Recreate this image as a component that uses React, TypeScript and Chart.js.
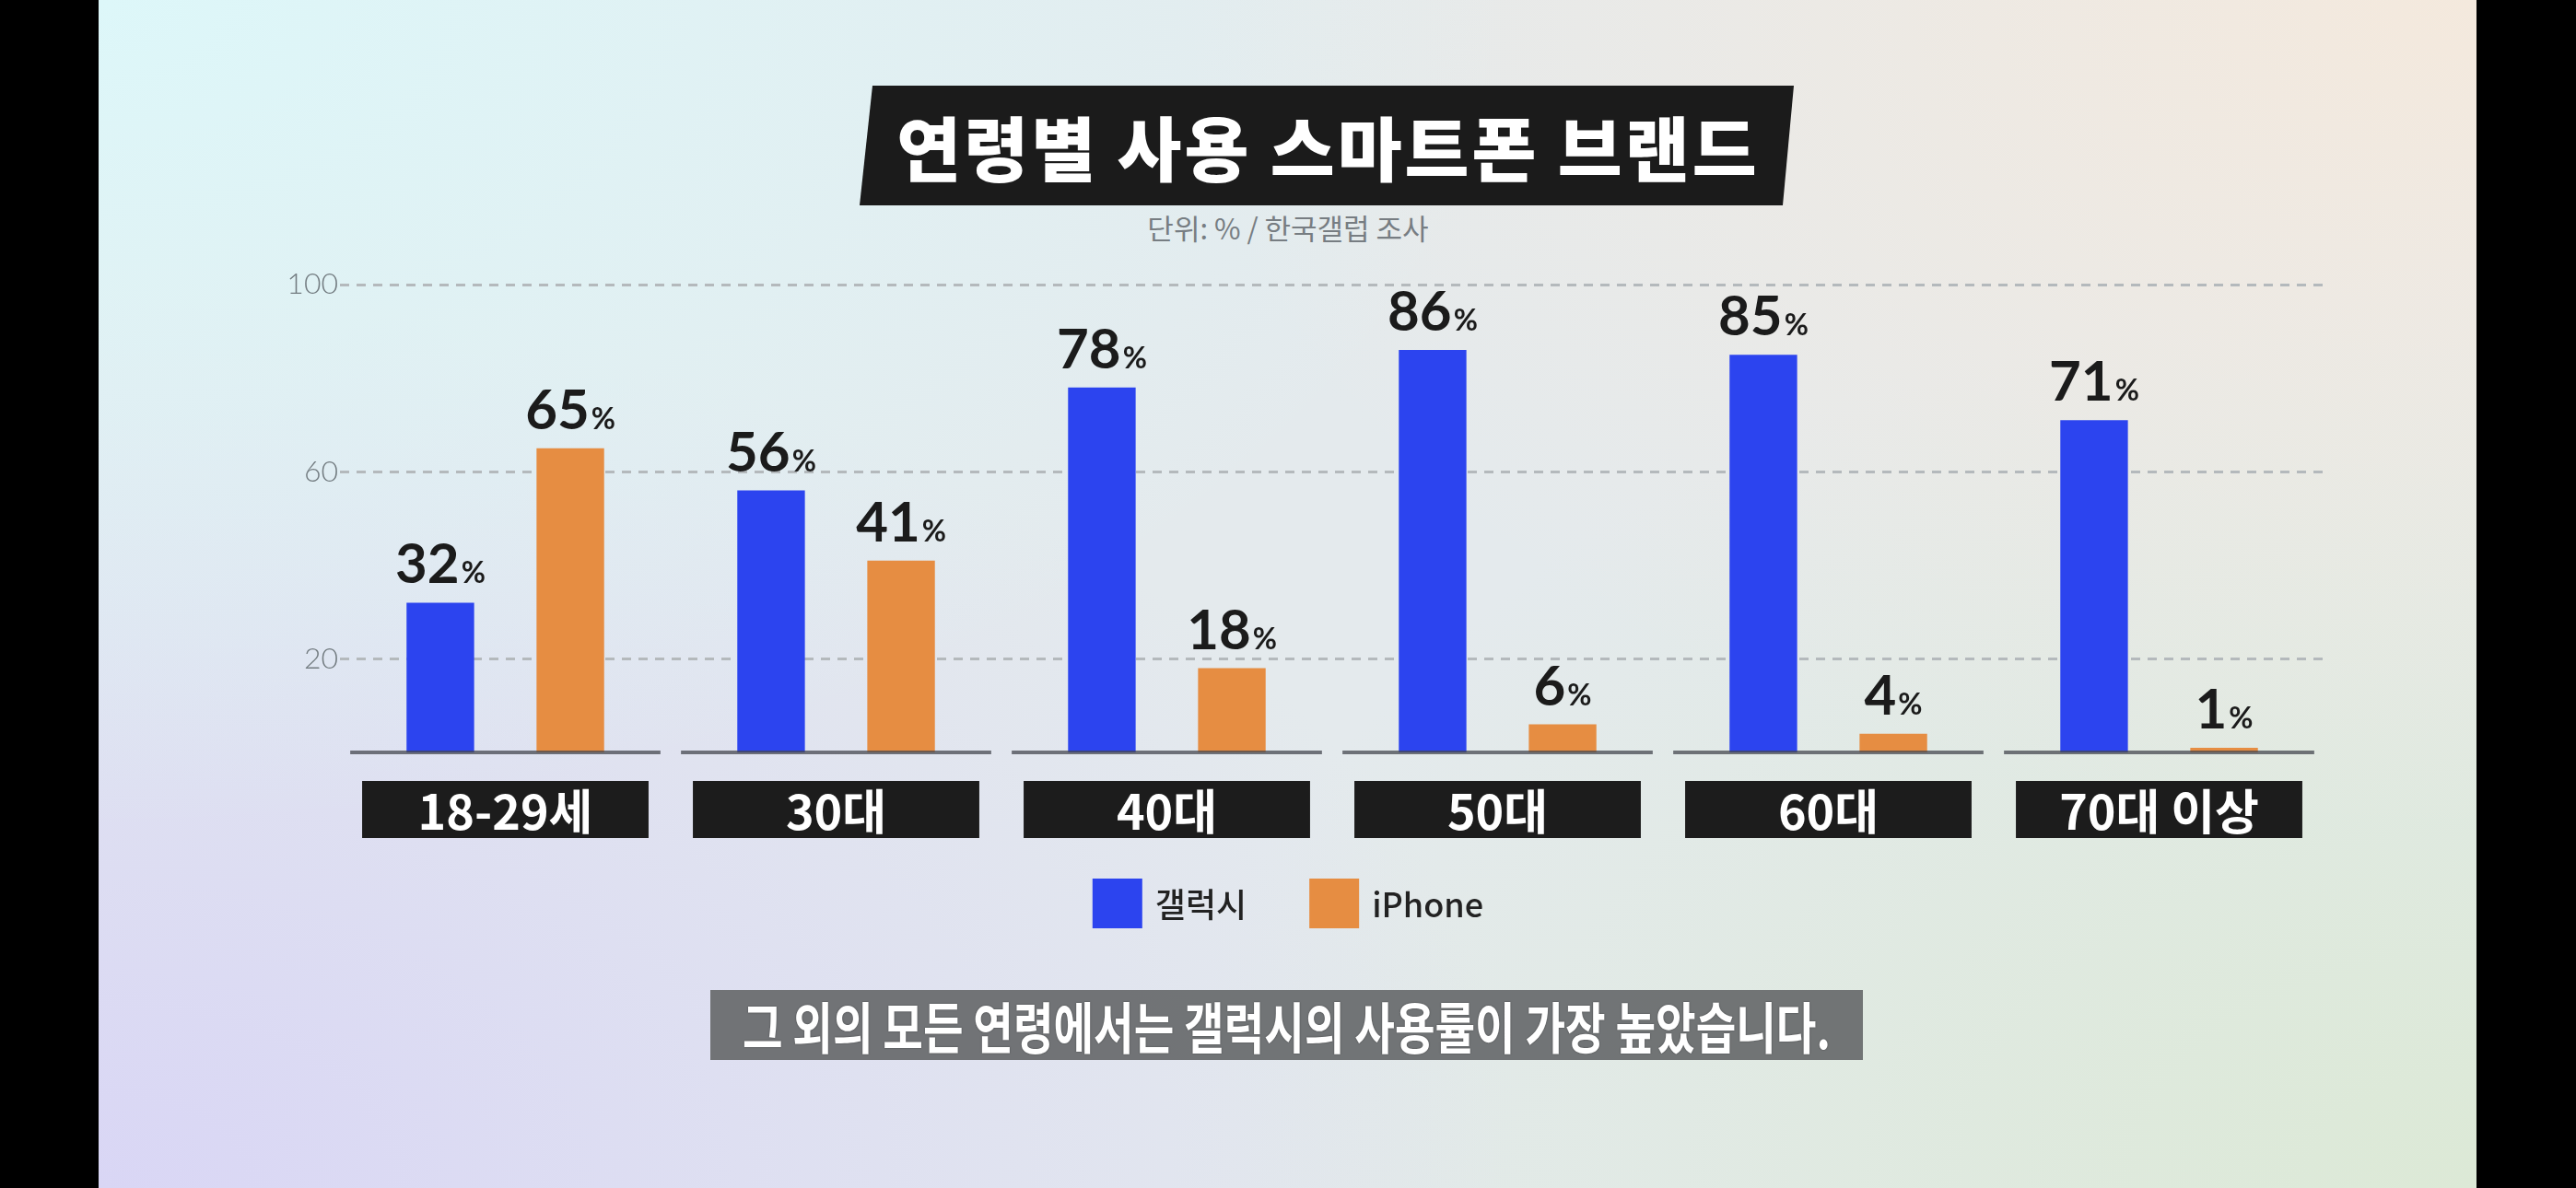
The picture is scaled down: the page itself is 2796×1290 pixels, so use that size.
import React, { useEffect, useRef } from "react";
import { Chart, registerables } from "chart.js";

Chart.register(...registerables);

const categories = ["18-29세", "30대", "40대", "50대", "60대", "70대 이상"];
const seriesNames = ["갤럭시", "iPhone"];
const galaxyValues = [32, 56, 78, 86, 85, 71];
const iphoneValues = [65, 41, 18, 6, 4, 1];
const yTicks = [20, 60, 100];
const seriesColors = ["#2c44ef", "#e68d42"];

const W = 2796;
const H = 1290;
const KR = '"Noto Sans CJK KR", "Noto Sans", sans-serif';
const NUM = 'Lato, "Noto Sans", sans-serif';

const overlayPlugin = {
  id: "overlay",
  afterDatasetsDraw(chart: any) {
    const { ctx, chartArea, scales } = chart;
    const x = scales.x;
    const y = scales.y;
    const n = chart.data.labels.length;
    const catW = (chartArea.right - chartArea.left) / n;
    const y0 = y.getPixelForValue(0);
    ctx.save();

    // baseline segments per category
    ctx.strokeStyle = "rgba(70,72,80,0.75)";
    ctx.lineWidth = 4;
    for (let i = 0; i < n; i++) {
      const cx = x.getPixelForValue(i);
      ctx.beginPath();
      ctx.moveTo(cx - catW * 0.469, y0);
      ctx.lineTo(cx + catW * 0.469, y0);
      ctx.stroke();
    }

    // value labels
    ctx.textAlign = "left";
    ctx.textBaseline = "alphabetic";
    ctx.fillStyle = "#1b1b1b";
    chart.data.datasets.forEach((ds: any, di: number) => {
      const meta = chart.getDatasetMeta(di);
      meta.data.forEach((bar: any, i: number) => {
        const num = String(ds.data[i]);
        ctx.font = `700 60px ${NUM}`;
        const w1 = ctx.measureText(num).width;
        ctx.font = `700 32px ${NUM}`;
        const w2 = ctx.measureText("%").width;
        const gap = 2;
        const start = bar.x - (w1 + gap + w2) / 2;
        const base = bar.y - 21;
        ctx.font = `700 60px ${NUM}`;
        ctx.fillText(num, start, base);
        ctx.font = `700 32px ${NUM}`;
        ctx.fillText("%", start + w1 + gap, base);
      });
    });

    // category label boxes
    const boxW = catW * 0.866;
    const boxTop = y0 + 31;
    const boxH = 62;
    for (let i = 0; i < n; i++) {
      const cx = x.getPixelForValue(i);
      ctx.fillStyle = "#1c1c1c";
      ctx.fillRect(cx - boxW / 2, boxTop, boxW, boxH);
      ctx.fillStyle = "#ffffff";
      ctx.font = `700 52px ${KR}`;
      ctx.textAlign = "center";
      ctx.textBaseline = "middle";
      ctx.fillText(chart.data.labels[i], cx, boxTop + boxH / 2 + 2);
    }

    // legend
    const sq = 54;
    const gapText = 14;
    const itemGap = 68;
    ctx.font = `500 36px ${KR}`;
    const widths = chart.data.datasets.map(
      (ds: any) => sq + gapText + ctx.measureText(ds.label).width
    );
    const total =
      widths.reduce((a: number, b: number) => a + b, 0) +
      itemGap * (widths.length - 1);
    let lx = chart.width / 2 - total / 2;
    const ly = 954;
    chart.data.datasets.forEach((ds: any, di: number) => {
      ctx.fillStyle = ds.backgroundColor;
      ctx.fillRect(lx, ly, sq, sq);
      ctx.fillStyle = "#222222";
      ctx.textAlign = "left";
      ctx.textBaseline = "middle";
      ctx.fillText(ds.label, lx + sq + gapText, ly + sq / 2 + 1);
      lx += widths[di] + itemGap;
    });

    ctx.restore();
  },
};

export default function App() {
  const canvasRef = useRef<HTMLCanvasElement | null>(null);

  useEffect(() => {
    document.body.style.margin = "0";
    const canvas = canvasRef.current;
    if (!canvas) return;
    const chart = new Chart(canvas, {
      type: "bar",
      data: {
        labels: categories,
        datasets: [
          {
            label: seriesNames[0],
            data: galaxyValues,
            backgroundColor: seriesColors[0],
            borderWidth: 0,
            categoryPercentage: 0.786,
            barPercentage: 0.52,
          },
          {
            label: seriesNames[1],
            data: iphoneValues,
            backgroundColor: seriesColors[1],
            borderWidth: 0,
            categoryPercentage: 0.786,
            barPercentage: 0.52,
          },
        ],
      },
      options: {
        responsive: false,
        animation: false,
        devicePixelRatio: 1,
        layout: { padding: { left: 312, right: 273, top: 309, bottom: 473 } },
        plugins: {
          legend: { display: false },
          tooltip: { enabled: false },
        },
        scales: {
          x: { display: false },
          y: {
            min: 0,
            max: 100,
            afterBuildTicks: (s: any) => {
              s.ticks = yTicks.map((v) => ({ value: v }));
            },
            afterFit: (s: any) => {
              s.width = 57;
            },
            grid: { color: "#b4b9bc", lineWidth: 3, drawTicks: false },
            border: { display: false, dash: [10, 8] },
            ticks: {
              padding: 2,
              color: "#737c81",
              font: { family: "Lato", size: 32, weight: "300" },
            },
          },
        },
      },
      plugins: [overlayPlugin],
    } as any);
    return () => chart.destroy();
  }, []);

  return (
    <div
      style={{
        position: "absolute",
        left: 0,
        top: 0,
        width: W,
        height: H,
        background: "#000",
        overflow: "hidden",
      }}
    >
      <div
        style={{
          position: "absolute",
          left: 107,
          top: 0,
          width: 2688 - 107,
          height: H,
          background:
            "radial-gradient(ellipse 60% 70% at 0% 0%, #ddf7f9 0%, rgba(221,247,249,0) 100%)," +
            "radial-gradient(ellipse 55% 70% at 100% 0%, #f4e9dd 0%, rgba(244,233,221,0) 100%)," +
            "radial-gradient(ellipse 60% 75% at 0% 100%, #d9d6f5 0%, rgba(217,214,245,0) 100%)," +
            "radial-gradient(ellipse 55% 75% at 100% 100%, #dce9d6 0%, rgba(220,233,214,0) 100%)," +
            "#e4eaed",
        }}
      />
      <div
        style={{
          position: "absolute",
          left: 933,
          top: 93,
          width: 1014,
          height: 130,
          background: "#1b1b1b",
          clipPath: "polygon(14px 0, 100% 0, 1002px 100%, 0 100%)",
          display: "flex",
          alignItems: "center",
          justifyContent: "center",
        }}
      >
        <span
          style={{
            flexShrink: 0,
            color: "#fff",
            fontFamily: KR,
            fontWeight: 900,
            fontSize: 76,
            letterSpacing: 3,
            paddingLeft: 3,
            lineHeight: 1,
            whiteSpace: "nowrap",
          }}
        >
          연령별 사용 스마트폰 브랜드
        </span>
      </div>
      <div
        style={{
          position: "absolute",
          left: 0,
          top: 227,
          width: W,
          textAlign: "center",
          fontFamily: KR,
          fontWeight: 400,
          fontSize: 31,
          lineHeight: "40px",
          color: "#777d82",
        }}
      >
        단위: % / 한국갤럽 조사
      </div>
      <canvas
        ref={canvasRef}
        width={W}
        height={H}
        style={{ position: "absolute", left: 0, top: 0, width: W, height: H }}
      />
      <div
        style={{
          position: "absolute",
          left: 771,
          top: 1075,
          width: 1251,
          height: 76,
          background: "rgba(104,107,109,0.93)",
          display: "flex",
          alignItems: "center",
          justifyContent: "center",
          overflow: "hidden",
        }}
      >
        <span
          style={{
            flexShrink: 0,
            color: "#fff",
            fontFamily: KR,
            fontWeight: 700,
            fontSize: 60,
            lineHeight: 1,
            whiteSpace: "nowrap",
            transform: "scaleX(0.79)",
            textShadow: "0 0 2px rgba(0,0,0,0.5)",
          }}
        >
          그 외의 모든 연령에서는 갤럭시의 사용률이 가장 높았습니다.
        </span>
      </div>
    </div>
  );
}
